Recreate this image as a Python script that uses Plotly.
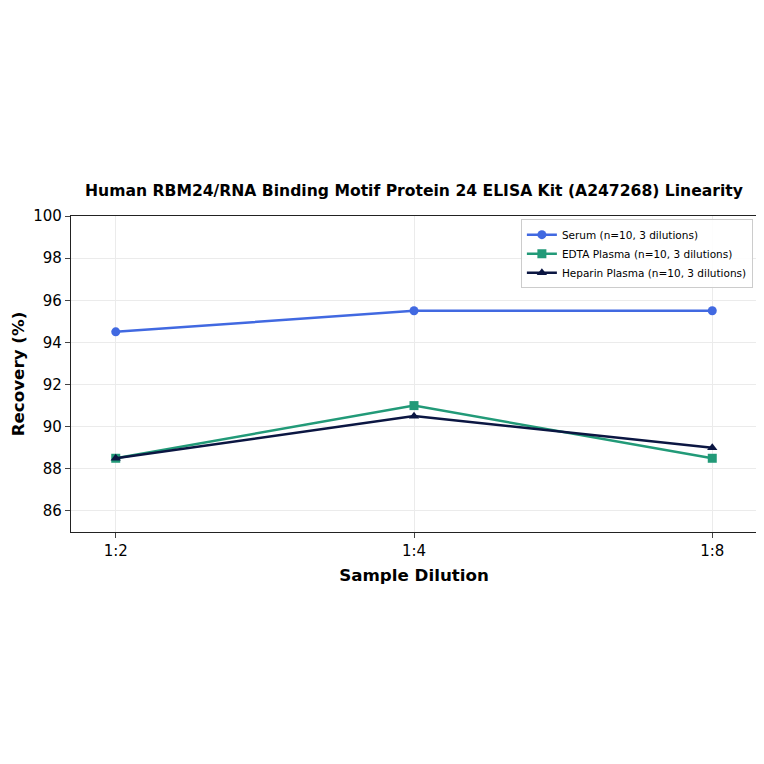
import plotly.graph_objects as go

dilutions = ["1:2", "1:4", "1:8"]
serum = [94.5, 95.5, 95.5]
edta = [88.5, 91.0, 88.5]
heparin = [88.5, 90.5, 89.0]

series = [
    ("Serum (n=10, 3 dilutions)", serum, "#4169E1", "circle"),
    ("EDTA Plasma (n=10, 3 dilutions)", edta, "#229A78", "square"),
    ("Heparin Plasma (n=10, 3 dilutions)", heparin, "#0B1642", "triangle-up"),
]

fig = go.Figure()
for name, vals, color, sym in series:
    fig.add_trace(go.Scatter(
        x=dilutions, y=vals, mode="lines+markers", name=name,
        line=dict(color=color, width=2.5),
        marker=dict(symbol=sym, size=9, color=color),
    ))

fig.update_layout(
    width=764, height=764,
    paper_bgcolor="white", plot_bgcolor="white",
    margin=dict(l=63, r=15, t=208, b=240),
    font=dict(family="DejaVu Sans", color="black"),
    title=dict(text="<b>Human RBM24/RNA Binding Motif Protein 24 ELISA Kit (A247268) Linearity</b>",
               x=0.5, xref="paper", xanchor="center", y=1 - 183 / 764, yanchor="middle",
               font=dict(size=15.6)),
    xaxis=dict(
        title=dict(text="<b>Sample Dilution</b>", font=dict(size=16.7), standoff=10),
        range=[-0.15, 2.15], showline=True, linecolor="#222", linewidth=1.3, mirror=True,
        ticks="outside", ticklen=5, tickfont=dict(size=15), automargin=False,
        showgrid=True, gridcolor="#ebebeb", zeroline=False,
    ),
    yaxis=dict(
        title=dict(text="<b>Recovery (%)</b>", font=dict(size=16.7), standoff=10),
        range=[85, 100], dtick=2, tick0=86, showline=True, linecolor="#222", linewidth=1.3, mirror=True,
        ticks="outside", ticklen=5, tickfont=dict(size=15), automargin=False,
        showgrid=True, gridcolor="#ebebeb", zeroline=False,
    ),
    legend=dict(x=0.994, y=0.99, xanchor="right", yanchor="top",
                bordercolor="#cccccc", borderwidth=1, bgcolor="rgba(255,255,255,0.9)",
                font=dict(size=10.5), tracegroupgap=0, itemwidth=30),
)

fig.write_html("out.html")
